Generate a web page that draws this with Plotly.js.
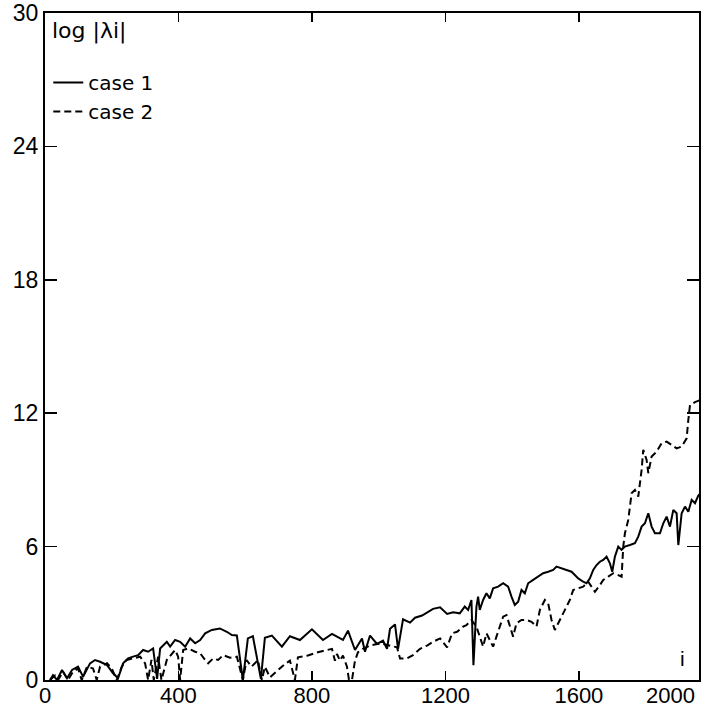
<!DOCTYPE html>
<html>
<head>
<meta charset="utf-8">
<script src="https://cdn.plot.ly/plotly-3.0.1.min.js"></script>
<style>html,body{margin:0;padding:0;background:#fff;}#chart{width:701px;height:710px;}</style>
</head>
<body>
<div id="chart"></div>
<script>
// Series: case 1 (solid) and case 2 (dashed)
const case1_i = [15,24,36,51,66,81,99,114,135,150,165,186,204,219,234,249,264,279,294,309,324,336,345,354,365,375,390,405,420,435,450,465,480,500,524,545,560,575,593,608,623,647,659,680,710,734,764,800,833,860,893,908,929,950,959,974,995,1013,1025,1034,1049,1058,1073,1094,1109,1130,1145,1163,1184,1205,1223,1243,1258,1268,1278,1284,1293,1298,1303,1313,1323,1333,1343,1358,1373,1388,1398,1408,1418,1428,1438,1448,1463,1478,1493,1508,1523,1533,1548,1563,1578,1588,1598,1613,1623,1633,1643,1653,1663,1673,1683,1693,1700,1708,1718,1728,1738,1753,1768,1778,1788,1798,1808,1818,1828,1843,1853,1863,1873,1883,1893,1898,1908,1918,1928,1938,1948,1958,1965];
const case1_v = [0,0.22,0,0.45,0.08,0.45,0.6,0.15,0.75,0.9,0.82,0.67,0.3,0.08,0.75,0.97,1.05,1.12,1.35,1.27,1.42,0.05,1.42,1.57,1.72,1.5,1.8,1.72,1.5,1.87,1.65,1.8,2.1,2.25,2.32,2.17,2.02,2.0,0.0,1.87,1.97,0.05,1.9,2.0,1.5,1.97,1.8,2.28,1.8,2.07,1.8,2.22,1.35,1.87,1.27,2.0,1.62,1.77,1.4,2.3,2.5,1.4,2.73,2.58,2.8,2.9,3.05,3.2,3.27,2.97,3.05,3.0,3.3,3.15,3.6,0.67,3.3,3.75,3.15,3.6,3.9,3.67,4.12,4.2,4.35,4.2,3.75,3.37,3.52,4.05,3.9,4.35,4.5,4.65,4.8,4.87,4.95,5.1,5.02,4.95,4.87,4.72,4.57,4.42,4.35,4.57,4.95,5.17,5.32,5.4,5.55,5.25,4.87,5.55,6.0,5.85,6.0,6.07,6.15,6.45,6.9,7.05,7.5,6.9,6.6,6.6,7.05,7.35,6.9,7.65,7.5,6.07,7.5,7.8,7.57,8.1,7.95,8.3,8.4];

const case2_i = [15,30,39,54,69,84,99,110,126,144,155,165,186,200,215,230,245,264,285,300,309,319,326,339,349,365,380,390,399,405,414,429,450,465,480,489,504,519,534,554,575,593,604,619,629,638,650,659,674,695,719,734,749,758,788,818,848,860,869,875,884,893,905,911,920,929,938,953,974,995,1013,1034,1055,1064,1085,1103,1124,1145,1163,1184,1205,1220,1235,1253,1263,1278,1293,1303,1313,1323,1333,1343,1353,1363,1373,1383,1393,1403,1413,1428,1443,1458,1473,1483,1498,1508,1518,1528,1543,1558,1573,1583,1598,1613,1628,1638,1648,1663,1673,1688,1703,1718,1728,1733,1738,1748,1758,1768,1778,1788,1793,1803,1808,1818,1833,1848,1863,1878,1893,1908,1923,1928,1933,1948,1965];
const case2_v = [0,0.2,0,0.37,0,0.37,0.52,0,0.6,0.52,0,0.6,0.75,0.52,0,0.6,0.9,0.97,1.05,0.75,0,0.9,0,1.05,0,0.9,1.2,1.35,1.05,0,1.35,1.42,1.27,1.2,0.9,0.75,0.97,0.9,1.12,1.0,1.05,0,0.9,0.6,0.75,0.9,0,0.6,0.12,0.42,0.72,0.87,0,1.02,1.1,1.25,1.35,1.4,0.87,1.17,0.87,1.1,0.6,0,0,0.87,1.25,1.4,1.55,1.62,1.62,1.55,1.47,0.97,0.97,1.12,1.4,1.55,1.72,1.87,1.47,2.1,2.17,2.4,2.47,2.7,2.4,1.95,1.5,2.1,1.8,1.5,1.95,2.4,2.85,2.92,2.4,1.95,2.55,2.7,2.7,2.62,2.4,3.15,3.6,3.45,2.7,2.25,2.7,3.15,3.6,4.05,4.12,4.2,4.42,4.2,3.97,4.27,4.5,4.65,4.8,4.72,4.65,6.0,6.6,7.2,8.4,8.55,8.25,9.45,10.35,9.9,9.3,10.05,10.27,10.65,10.72,10.57,10.42,10.5,10.87,11.7,12.37,12.5,12.6];

const xTickVals = [0,400,800,1200,1600];
const xTickText = ['0','400','800','1200','1600'];
const xEndLabel = '2000';
const yTickVals = [0,6,12,18,24,30];
const yTickText = ['0','6','12','18','24','30'];
const seriesNames = ['case 1','case 2'];
const yLabel = 'log |λi|';
const xLabel = 'i';

const FONT = 'Liberation Sans, Arial, sans-serif';
const FONT2 = 'DejaVu Sans, sans-serif';

const traces = [
  {x: case1_i, y: case1_v, name: seriesNames[0], mode: 'lines', type: 'scatter',
   line: {color: '#000', width: 2}},
  {x: case2_i, y: case2_v, name: seriesNames[1], mode: 'lines', type: 'scatter',
   line: {color: '#000', width: 2, dash: '7px,4px'}}
];

const layout = {
  width: 701, height: 710,
  margin: {l: 45, r: 2, t: 13, b: 30, pad: 0},
  paper_bgcolor: '#fff', plot_bgcolor: '#fff',
  font: {family: FONT, color: '#000', size: 22},
  showlegend: true,
  legend: {x: 0.005, y: 0.925, xanchor: 'left', yanchor: 'top', bgcolor: 'rgba(0,0,0,0)',
           font: {family: FONT2, size: 20, color: '#000'}, tracegroupgap: 0},
  xaxis: {
    range: [0, 1960], tickvals: xTickVals, ticktext: xTickText,
    showgrid: false, zeroline: false, showline: true, linecolor: '#000', linewidth: 2,
    mirror: 'ticks', ticks: 'inside', ticklen: 9, tickwidth: 1.5, tickcolor: '#000',
    ticklabelstandoff: -5,
    tickfont: {family: FONT, size: 22, color: '#000'}
  },
  yaxis: {
    range: [0, 30], tickvals: yTickVals, ticktext: yTickText,
    showgrid: false, zeroline: false, showline: true, linecolor: '#000', linewidth: 2,
    mirror: 'ticks', ticks: 'inside', ticklen: 12, tickwidth: 1.5, tickcolor: '#000',
    tickfont: {family: FONT, size: 23, color: '#000'}
  },
  annotations: [
    {text: yLabel, xref: 'paper', yref: 'paper', x: 0.008, y: 0.996, xanchor: 'left', yanchor: 'top',
     showarrow: false, font: {family: FONT2, size: 22, color: '#000'}},
    {text: xLabel, xref: 'paper', yref: 'paper', x: 0.975, y: 0.012, xanchor: 'center', yanchor: 'bottom',
     showarrow: false, font: {family: FONT, size: 21, color: '#000'}},
    {text: xEndLabel, xref: 'paper', yref: 'paper', x: 1, y: 0, xanchor: 'right', yanchor: 'top',
     xshift: -2, yshift: -1, showarrow: false, font: {family: FONT, size: 22, color: '#000'}}
  ]
};

Plotly.newPlot('chart', traces, layout, {displayModeBar: false, staticPlot: true});
</script>
</body>
</html>
